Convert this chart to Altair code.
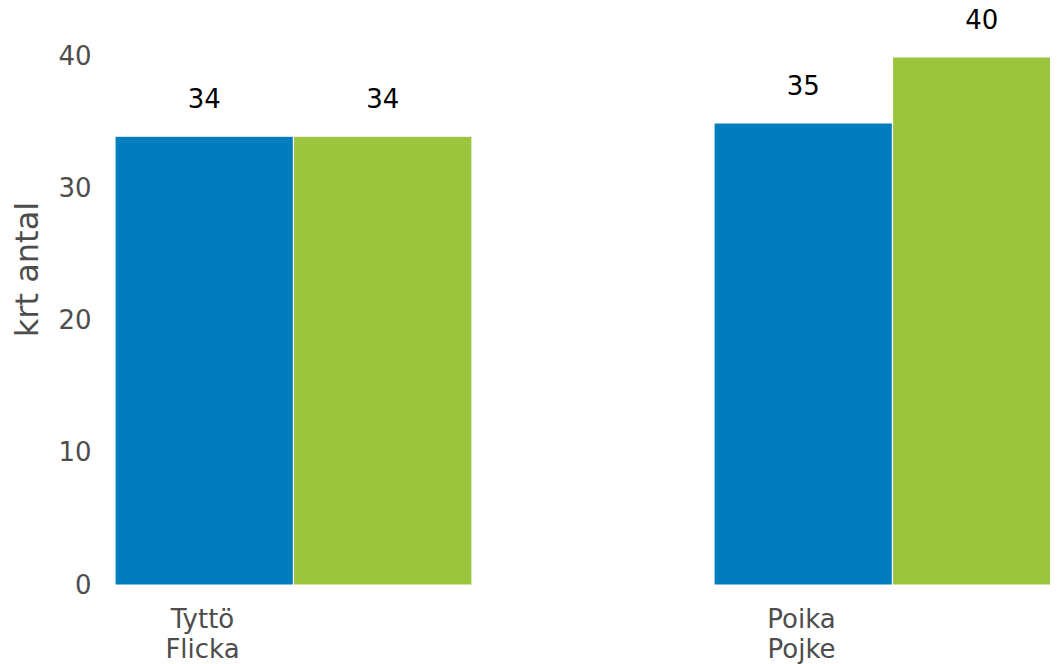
import altair as alt
import pandas as pd

categories = ["Tyttö|Flicka", "Poika|Pojke"]
series = ["Sarja 1", "Sarja 2"]
values_s1 = [34, 35]
values_s2 = [34, 40]
colors = ["#007DBD", "#9BC53D"]
y_ticks = [0, 10, 20, 30, 40]

rows = []
for c, v1, v2 in zip(categories, values_s1, values_s2):
    rows.append({"cat": c, "series": series[0], "value": v1})
    rows.append({"cat": c, "series": series[1], "value": v2})
df = pd.DataFrame(rows)

FONT = "DejaVu Sans"
GREY = "#4D4D4D"

x_enc = alt.X(
    "cat:N",
    sort=categories,
    scale=alt.Scale(range=[15, 971], paddingInner=0.404, paddingOuter=0),
    axis=alt.Axis(
        title=None,
        domain=False,
        ticks=False,
        labelAngle=0,
        labelExpr="split(datum.label, '|')",
        labelOffset=-91,
        labelPadding=21,
        labelFont=FONT,
        labelFontSize=26,
        labelColor=GREY,
        labelLineHeight=30,
        labelBaseline="top",
    ),
)
xoff = alt.XOffset("series:N", sort=series, scale=alt.Scale(paddingInner=0, paddingOuter=0))
y_enc = alt.Y(
    "value:Q",
    scale=alt.Scale(domain=[0, 43.71], nice=False, zero=True),
    axis=alt.Axis(
        title="krt antal",
        values=y_ticks,
        grid=False,
        domain=False,
        ticks=False,
        labelPadding=9,
        labelFont=FONT,
        labelFontSize=26,
        labelColor=GREY,
        titleFont=FONT,
        titleFontSize=32,
        titleFontWeight="normal",
        titleColor=GREY,
        titleX=-73,
        titleY=261,
        titleAngle=-90,
        titleAlign="center",
        titleBaseline="middle",
    ),
)
color_enc = alt.Color("series:N", sort=series, scale=alt.Scale(domain=series, range=colors), legend=None)

bars = alt.Chart(df).mark_bar(clip=True, stroke="#ffffff", strokeWidth=1.2).encode(
    x=x_enc, xOffset=xoff, y=y_enc, color=color_enc
)
labels = alt.Chart(df).mark_text(
    font=FONT, fontSize=26, color="#000000", baseline="middle", align="center", dy=-36
).encode(x=x_enc, xOffset=xoff, y=y_enc, text="value:Q")

chart = (
    alt.layer(bars, labels)
    .properties(
        width=950,
        height=577,
        autosize="none",
        background="white",
        padding={"left": 92, "top": 0, "right": 0, "bottom": 79},
    )
    .configure_view(strokeWidth=0, stroke="transparent")
)

chart.save("out.html", embed_options={"renderer": "svg", "actions": False})
